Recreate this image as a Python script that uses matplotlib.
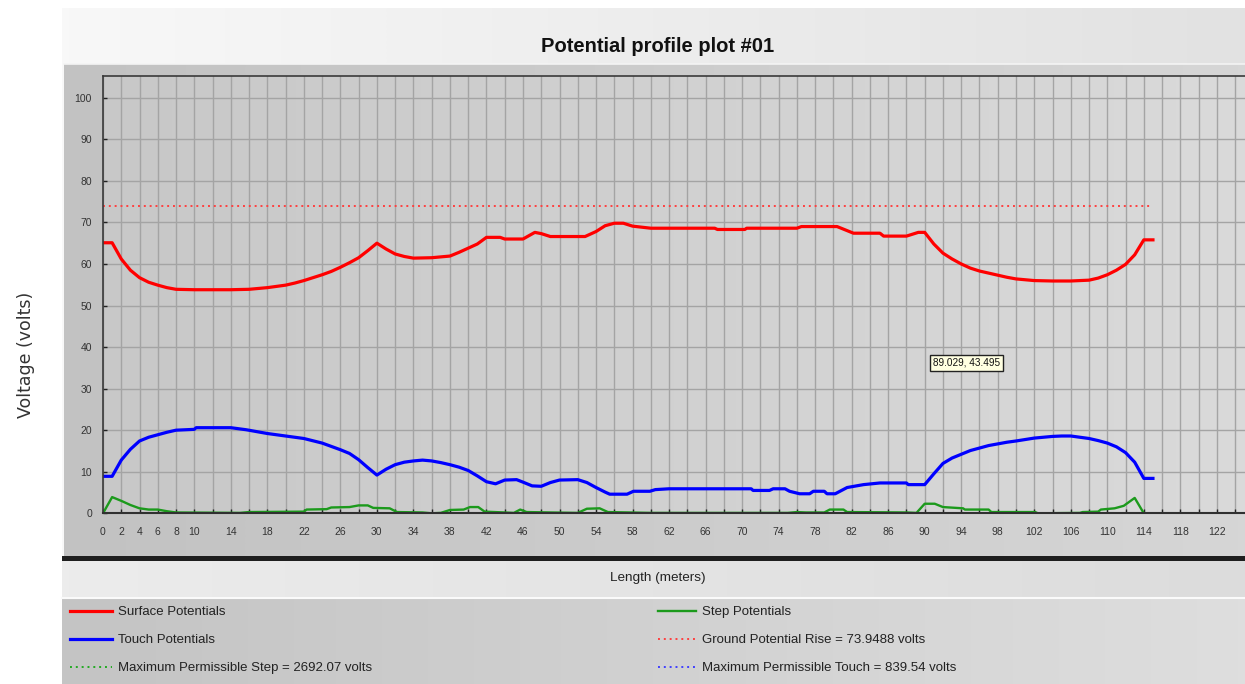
import numpy as np
import matplotlib
matplotlib.use("Agg")
import matplotlib.pyplot as plt
from matplotlib.colors import LinearSegmentedColormap

plt.rcParams['font.family'] = ['Liberation Sans Narrow', 'Liberation Sans', 'DejaVu Sans']

# profile data (length in meters, voltage in volts)
surface_x = [0, 1, 2, 3, 4, 5, 6, 7, 8, 10, 12, 14, 16, 18, 20, 21, 22, 23, 24, 25,
             26, 27, 28, 29, 30, 31, 32, 33, 34, 36, 38, 39, 40, 41, 42, 43.5, 44, 46,
             47.3, 48, 49, 52.8, 54, 55, 56, 57, 58, 60, 67, 67.3, 70.3, 70.5, 76, 76.5,
             80.4, 81.3, 82.2, 85.1, 85.5, 88, 89.3, 90, 91, 92, 93, 94, 95, 96, 97, 98,
             99, 100, 102, 104, 106, 108, 109, 110, 111, 112, 113, 114, 115]
surface_y = [65.1, 65.1, 61.2, 58.5, 56.7, 55.6, 54.9, 54.3, 53.9, 53.8, 53.8, 53.8, 53.9,
             54.3, 54.9, 55.4, 56.0, 56.7, 57.4, 58.2, 59.2, 60.3, 61.5, 63.2, 65.0, 63.6,
             62.4, 61.8, 61.4, 61.5, 61.9, 62.8, 63.8, 64.8, 66.4, 66.4, 66.0, 66.0, 67.6,
             67.3, 66.6, 66.6, 67.8, 69.2, 69.8, 69.8, 69.1, 68.6, 68.6, 68.3, 68.3, 68.6,
             68.6, 69.0, 69.0, 68.2, 67.4, 67.4, 66.7, 66.7, 67.6, 67.6, 64.8, 62.6, 61.2,
             60.0, 59.0, 58.3, 57.8, 57.3, 56.8, 56.4, 56.0, 55.9, 55.9, 56.1, 56.6, 57.4,
             58.5, 59.9, 62.2, 65.8, 65.8]

touch_x = [0, 1, 2, 3, 4, 5, 6, 7, 8, 10, 10.2, 14, 15.7, 18, 20, 22, 24, 26, 27, 28, 29,
           30, 31, 32, 33, 34, 35, 36, 37, 38, 39, 40, 41, 42, 43, 44, 45.3, 46, 47, 48,
           49, 50, 52, 53, 54, 55, 55.5, 57.4, 58.1, 59.9, 60.5, 62, 71, 71.2, 73, 73.4,
           74.7, 75.2, 76.3, 77.4, 77.8, 79, 79.3, 80.2, 81.5, 83.3, 85.1, 88, 88.2, 90,
           91, 92, 93, 94, 95, 96, 97, 98, 99, 100, 102, 104, 105, 106, 108, 109, 110,
           111, 112, 113, 114, 115]
touch_y = [8.9, 8.9, 12.8, 15.4, 17.4, 18.3, 18.9, 19.5, 20.0, 20.2, 20.6, 20.6, 20.1,
           19.2, 18.6, 18.0, 16.9, 15.3, 14.4, 12.9, 11.0, 9.2, 10.6, 11.7, 12.3, 12.6,
           12.8, 12.6, 12.2, 11.7, 11.1, 10.3, 9.0, 7.6, 7.1, 8.0, 8.1, 7.5, 6.6, 6.5, 7.4,
           8.0, 8.1, 7.4, 6.2, 5.1, 4.6, 4.6, 5.3, 5.3, 5.7, 5.9, 5.9, 5.5, 5.5, 5.9, 5.9,
           5.3, 4.7, 4.7, 5.3, 5.3, 4.7, 4.7, 6.2, 6.9, 7.3, 7.3, 6.9, 6.9, 9.5, 12.0,
           13.3, 14.2, 15.1, 15.7, 16.3, 16.7, 17.1, 17.4, 18.1, 18.5, 18.6, 18.6, 18.0,
           17.5, 16.9, 16.0, 14.6, 12.3, 8.4, 8.4]

step_x = [0, 1, 2, 3, 4, 5, 6, 7, 8, 15, 16, 22, 22.3, 24.5, 25, 27, 28, 29, 29.6, 31.4,
          32.2, 35, 36, 37, 38, 39.5, 40.2, 41.1, 41.8, 44, 45, 45.7, 46.4, 49, 52, 53,
          54.4, 55.3, 60, 75, 76, 77, 79, 79.6, 81.1, 81.5, 88, 89.1, 90, 91.1, 92, 94.2,
          94.4, 97, 97.3, 102.1, 102.4, 107, 107.3, 109, 109.3, 110.8, 111.8, 113, 114]
step_y = [0.0, 3.9, 3.0, 2.0, 1.2, 0.9, 0.9, 0.5, 0.2, 0.1, 0.3, 0.4, 0.9, 1.0, 1.4, 1.5,
          1.9, 1.9, 1.3, 1.2, 0.3, 0.2, 0.0, 0.1, 0.8, 0.9, 1.5, 1.5, 0.4, 0.2, 0.1, 0.9,
          0.3, 0.2, 0.1, 1.1, 1.2, 0.3, 0.1, 0.1, 0.3, 0.2, 0.2, 0.9, 0.9, 0.3, 0.2, 0.1,
          2.3, 2.3, 1.5, 1.2, 0.9, 0.9, 0.3, 0.3, 0.0, 0.1, 0.3, 0.4, 0.9, 1.2, 1.8, 3.7,
          0.0]

gpr = 73.9488
max_step = 2692.07
max_touch = 839.54
profile_end = 115

x_labels = [0, 2, 4, 6, 8, 10] + list(range(14, 123, 4))
y_ticks = list(range(0, 101, 10))
cursor_text = "89.029, 43.495"

W, H = 1245, 684
fig = plt.figure(figsize=(W / 100, H / 100), dpi=100)
fig.patch.set_facecolor('white')

# background panels drawn in pixel coordinates
bg = fig.add_axes([0, 0, 1, 1])
bg.set_xlim(0, W)
bg.set_ylim(H, 0)
bg.axis('off')


def gradient(x0, x1, y0, y1, c0, c1):
    cmap = LinearSegmentedColormap.from_list('g', [c0, c1])
    bg.imshow(np.linspace(0, 1, 256).reshape(1, -1), cmap=cmap, aspect='auto',
              extent=(x0, x1, y1, y0), interpolation='bilinear')


gradient(62, W, 8, H, '#f8f8f8', '#e2e2e2')
gradient(64, W, 64, 557, '#c2c2c2', '#d6d6d6')
bg.plot([64, W], [64, 64], color='#f4f4f4', lw=1.2)
gradient(103, W, 76, 513, '#c8c8c8', '#dadada')
bg.fill_between([62, W], 556, 561, color='#1e1e1e', lw=0)
gradient(62, W, 561, 597, '#ececec', '#dcdcdc')
bg.plot([62, W], [598, 598], color='#fafafa', lw=1.5)
gradient(62, W, 599, H, '#c4c4c4', '#dedede')
bg.set_xlim(0, W)
bg.set_ylim(H, 0)

fig.text(658 / W, 1 - 46 / H, 'Potential profile plot #01', ha='center', va='center',
         fontsize=14.5, fontweight='bold', color='#111111')
fig.text(658 / W, 1 - 578 / H, 'Length (meters)', ha='center', va='center',
         fontsize=9.7, color='#222222')
fig.text(26 / W, 1 - 355 / H, 'Voltage (volts)', ha='center', va='center',
         rotation=90, fontsize=12.5, color='#333333', family='DejaVu Sans')

# main plot area
x_per_px = 1 / 9.13
ax = fig.add_axes([103 / W, 1 - 513.3 / H, (W - 103) / W, (513.3 - 75.7) / H])
ax.set_facecolor('none')
ax.set_xlim(0, (W - 103) * x_per_px)
ax.set_ylim(0, 105.3)

ax.set_xticks(np.arange(0, 126, 2))
ax.set_xticklabels([str(v) if v in x_labels else '' for v in range(0, 126, 2)])
ax.set_yticks(y_ticks)
ax.tick_params(axis='both', direction='in', length=3, width=1, color='#222222',
               labelsize=7.5, labelcolor='#333333')
ax.tick_params(axis='x', pad=10)
ax.tick_params(axis='y', pad=8)
ax.grid(True, color='#a4a4a4', lw=1)
ax.set_axisbelow(True)
for side in ['left', 'top']:
    ax.spines[side].set_color('#3a3a3a')
    ax.spines[side].set_linewidth(1.2)
ax.spines['bottom'].set_color('#303030')
ax.spines['bottom'].set_linewidth(1.5)
ax.spines['right'].set_visible(False)

dots = (0, (1, 2))
l_surface, = ax.plot(surface_x, surface_y, color='#ff0000', lw=2.3, label='Surface Potentials')
l_touch, = ax.plot(touch_x, touch_y, color='#0000ff', lw=2.3, label='Touch Potentials')
l_step, = ax.plot(step_x, step_y, color='#1c9a1c', lw=1.7, label='Step Potentials')
l_gpr, = ax.plot([0, profile_end], [gpr, gpr], color='#ff4040', lw=1.4, ls=dots,
                 label='Ground Potential Rise = %.4f volts' % gpr)
l_mstep, = ax.plot([0, profile_end], [max_step, max_step], color='#22aa22', lw=1.4,
                   ls=dots, label='Maximum Permissible Step = %.2f volts' % max_step)
l_mtouch, = ax.plot([0, profile_end], [max_touch, max_touch], color='#4040ff', lw=1.4,
                    ls=dots, label='Maximum Permissible Touch = %.2f volts' % max_touch)

ax.text(90.9, 36.2, cursor_text, fontsize=7.2, ha='left', va='center', color='#111111',
        bbox=dict(boxstyle='square,pad=0.3', fc='#ffffe1', ec='#222222', lw=1))

leg_kw = dict(frameon=False, fontsize=9.5, handletextpad=0.45,
              labelspacing=1.2, borderpad=0, borderaxespad=0, loc='upper left')
leg1 = fig.legend(handles=[l_surface, l_touch, l_mstep], handlelength=3.2,
                  bbox_to_anchor=(70 / W, 1 - 606 / H), **leg_kw)
leg2 = fig.legend(handles=[l_step, l_gpr, l_mtouch], handlelength=2.9,
                  bbox_to_anchor=(658 / W, 1 - 606 / H), **leg_kw)
for leg in (leg1, leg2):
    for t in leg.get_texts():
        t.set_color('#222222')

fig.savefig('out.png', dpi=100)
